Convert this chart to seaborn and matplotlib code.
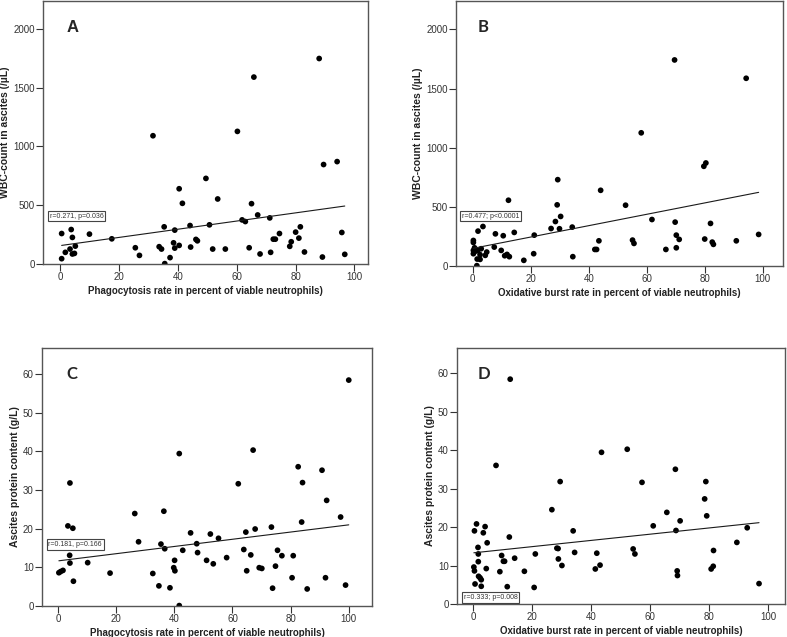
import numpy as np
import pandas as pd
import matplotlib
matplotlib.use("Agg")
import matplotlib.pyplot as plt
import seaborn as sns

# Panel A: phagocytosis rate vs WBC count
phago_a = [0.45, 0.45, 1.7, 3.3, 3.7, 4.1, 4.1, 4.8, 5.1, 9.9, 17.5, 25.5, 26.9, 31.5,
           33.6, 34.4, 35.3, 35.5, 37.3, 38.5, 38.9, 38.9, 40.4, 40.4, 41.5, 44.1, 44.3,
           46.1, 46.6, 49.5, 50.7, 51.8, 53.5, 56.1, 60.2, 61.8, 62.9, 64.2, 65.0, 65.8,
           67.1, 67.9, 71.2, 71.5, 72.4, 73.1, 74.5, 78.0, 78.5, 80.0, 81.1, 81.6, 83.0,
           88.0, 89.1, 89.5, 94.1, 95.7, 96.7]
wbc_a = [259, 45, 99, 127, 293, 226, 85, 90, 152, 254, 214, 138, 73, 1091,
         147, 127, 316, 3, 54, 180, 288, 135, 640, 158, 516, 327, 144,
         209, 197, 728, 333, 127, 553, 127, 1128, 375, 361, 138, 513, 1590,
         417, 85, 392, 99, 211, 211, 259, 150, 189, 271, 220, 316, 102,
         1748, 59, 846, 871, 268, 82]

# Panel B: oxidative burst rate vs WBC count
burst_b = [0.2, 0.2, 0.6, 0.2, 0.2, 1.0, 1.7, 2.9, 2.5, 4.3, 4.8, 1.5, 2.5, 1.4,
           1.8, 3.5, 7.8, 7.4, 9.8, 10.5, 11.0, 11.8, 12.6, 12.3, 14.3, 17.6, 21.0,
           21.2, 27.0, 28.5, 29.1, 29.3, 29.9, 30.3, 34.3, 34.5, 42.1, 42.7, 43.5,
           44.1, 52.7, 55.1, 55.6, 58.1, 61.8, 66.6, 69.6, 69.8, 70.2, 70.2, 71.2,
           79.7, 80.0, 80.4, 82.0, 82.6, 83.0, 90.9, 94.3, 98.6]
wbc_b = [216, 199, 154, 132, 104, 126, 132, 146, 96, 90, 118, 59, 56, 3,
         295, 334, 272, 160, 132, 256, 87, 98, 79, 556, 284, 48, 104,
         261, 317, 376, 517, 730, 315, 419, 329, 79, 140, 140, 213,
         640, 514, 219, 191, 1126, 393, 140, 1742, 371, 261, 154, 225,
         843, 228, 871, 360, 202, 183, 213, 1587, 267]

# Panel C: phagocytosis rate vs ascites protein
phago_c = [0.3, 0.9, 1.7, 3.4, 4.0, 4.1, 4.1, 5.1, 5.3, 10.2, 17.9, 26.4, 27.7, 32.6,
           34.7, 35.4, 36.4, 36.7, 38.5, 39.8, 40.1, 40.2, 41.7, 41.7, 42.9, 45.6,
           47.7, 48.0, 51.1, 52.4, 53.4, 55.2, 58.0, 62.0, 63.9, 64.6, 64.9, 66.3,
           67.1, 67.8, 69.2, 70.1, 73.4, 73.8, 74.8, 75.5, 77.0, 80.5, 80.9, 82.6,
           83.8, 84.1, 85.7, 90.8, 92.0, 92.4, 97.2, 98.9, 100.0]
protein_c = [8.6, 8.9, 9.2, 20.7, 13.1, 31.8, 11.1, 20.1, 6.4, 11.2, 8.5, 23.9, 16.6, 8.4,
             5.2, 16.0, 24.5, 14.8, 4.7, 9.9, 11.8, 9.1, 39.4, 0.1, 14.4, 18.9,
             16.1, 13.8, 11.8, 18.6, 10.9, 17.5, 12.5, 31.6, 14.6, 19.1, 9.1, 13.2,
             40.3, 19.9, 9.9, 9.7, 20.4, 4.6, 10.3, 14.4, 13.0, 7.3, 13.0, 36.0,
             21.7, 31.9, 4.4, 35.1, 7.3, 27.3, 23.0, 5.4, 58.4]

# Panel D: oxidative burst rate vs ascites protein
burst_d = [1.2, 4.1, 0.5, 3.5, 12.3, 4.8, 1.7, 1.8, 9.7, 26.7, 33.9, 28.4, 28.8,
           10.3, 10.7, 14.1, 21.1, 28.9, 34.4, 30.1, 1.8, 4.5, 0.3, 0.5, 9.1, 17.4,
           1.9, 2.4, 2.8, 0.7, 2.8, 11.6, 20.7, 0.5, 7.6, 12.6, 7.8, 29.5, 43.5,
           52.2, 41.4, 41.9, 43.0, 54.2, 54.8, 57.2, 61.0, 65.6, 68.5, 68.7, 69.1,
           69.2, 70.1, 78.4, 78.8, 79.1, 80.6, 81.3, 81.4, 89.3, 92.8, 96.8]
protein_d = [20.8, 20.1, 19.0, 18.5, 17.4, 15.9, 14.7, 13.0, 12.6, 24.5, 19.0, 14.5, 14.4,
             11.1, 11.1, 11.9, 13.0, 11.7, 13.4, 10.0, 11.0, 9.2, 9.6, 8.6, 8.4, 8.5,
             7.2, 6.8, 6.3, 5.2, 4.6, 4.5, 4.3, 0.3, 0.3, 58.4, 36.0, 31.8, 39.4,
             40.2, 9.1, 13.2, 10.1, 14.3, 13.0, 31.6, 20.3, 23.8, 35.0, 19.1, 8.6,
             7.4, 21.6, 27.3, 31.8, 22.9, 9.1, 9.8, 13.9, 16.0, 19.8, 5.3]

panel_letters = ["A", "B", "C", "D"]
stat_labels = ["r=0.271, p=0.036", "r=0.477; p<0.0001", "r=0.181, p=0.166", "r=0.333; p=0.008"]
xlabel_phago = "Phagocytosis rate in percent of viable neutrophils)"
xlabel_burst = "Oxidative burst rate in percent of viable neutrophils)"
ylabel_wbc = "WBC-count in ascites (/\u00b5L)"
ylabel_protein = "Ascites protein content (g/L)"

sns.set_theme(style="ticks")
plt.rcParams['font.family'] = ['Liberation Sans', 'DejaVu Sans']

fig = plt.figure(figsize=(7.87, 6.37), dpi=100)

panels = [
    dict(x=phago_a, y=wbc_a, rect=[0.0546, 0.5856, 0.413, 0.4124], xlim=(-5.9, 104.6),
         ylim=(0, 2235), yticks=[0, 500, 1000, 1500, 2000], xl=xlabel_phago, yl=ylabel_wbc,
         letter_xy=(4.2, 2013), box_xy=(-3.6, 406), letter_font='Liberation Sans'),
    dict(x=burst_b, y=wbc_b, rect=[0.5794, 0.5824, 0.4155, 0.4156], xlim=(-5.8, 107),
         ylim=(0, 2238), yticks=[0, 500, 1000, 1500, 2000], xl=xlabel_burst, yl=ylabel_wbc,
         letter_xy=(3.7, 2020), box_xy=(-3.7, 421), letter_font='Lato'),
    dict(x=phago_c, y=protein_c, rect=[0.0534, 0.0487, 0.4193, 0.405], xlim=(-5.5, 108),
         ylim=(0, 66.7), yticks=[0, 10, 20, 30, 40, 50, 60], xl=xlabel_phago, yl=ylabel_protein,
         letter_xy=(4.9, 60), box_xy=(-3.3, 15.9), letter_font='Lato'),
    dict(x=burst_d, y=protein_d, rect=[0.5807, 0.0518, 0.4168, 0.4019], xlim=(-5.4, 105.6),
         ylim=(0, 66.5), yticks=[0, 10, 20, 30, 40, 50, 60], xl=xlabel_burst, yl=ylabel_protein,
         letter_xy=(3.6, 59.7), box_xy=(-3.1, 1.7), letter_font='Lato'),
]

for p, letter, stat in zip(panels, panel_letters, stat_labels):
    ax = fig.add_axes(p['rect'])
    df = pd.DataFrame({'x': p['x'], 'y': p['y']})
    sns.scatterplot(data=df, x='x', y='y', ax=ax, color='black', s=17,
                    edgecolor='none', clip_on=True)
    sns.regplot(data=df, x='x', y='y', ax=ax, scatter=False, ci=None,
                line_kws=dict(color='#1a1a1a', lw=0.8))
    ax.set_xlim(*p['xlim'])
    ax.set_ylim(*p['ylim'])
    ax.set_xticks([0, 20, 40, 60, 80, 100])
    ax.set_yticks(p['yticks'])
    ax.tick_params(labelsize=7, colors='#333333', length=5, width=0.8, pad=1)
    for s in ax.spines.values():
        s.set_visible(True)
        s.set_color('#555555')
        s.set_linewidth(1.0)
    ax.set_xlabel(p['xl'], fontsize=7, fontweight='bold', color='#222222', labelpad=2.5)
    ax.set_ylabel(p['yl'], fontsize=7.5, fontweight='bold', color='#222222', labelpad=2)
    ax.text(*p['letter_xy'], letter, fontsize=12, fontweight='bold', ha='center', va='center',
            family=[p['letter_font'], 'DejaVu Sans'])
    ax.text(*p['box_xy'], stat, fontsize=5, color='#333333', ha='left', va='center',
            bbox=dict(boxstyle='square,pad=0.25', fc='white', ec='#444444', lw=0.8))

fig.savefig('out.png', dpi=100)
